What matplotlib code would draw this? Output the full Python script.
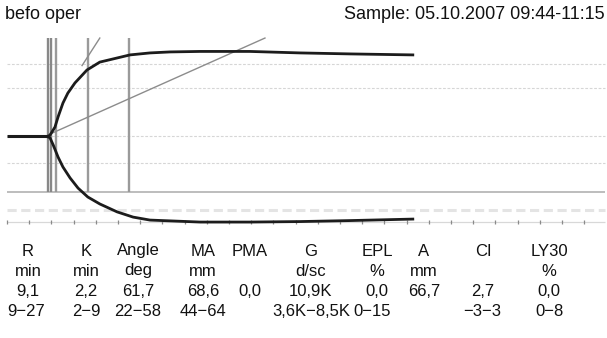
import matplotlib.pyplot as plt

# TEG trace (time in min, amplitude in mm)
base_t = [0.0, 9.2]
base_a = [0.0, 0.0]

upper_t = [9.2, 9.7, 10.8, 11.5, 12.6, 13.7, 15.3, 18.0, 20.9, 27.7,
           32.2, 36.7, 43.5, 54.7, 66.0, 77.3, 91.4]
upper_a = [0.0, 0.6, 3.8, 7.9, 13.5, 17.5, 21.6, 26.8, 30.0, 32.9,
           33.7, 34.1, 34.3, 34.3, 33.7, 33.3, 32.9]

lower_t = [9.2, 9.7, 10.4, 11.5, 12.6, 14.2, 16.0, 18.2, 20.9, 24.8,
           28.4, 32.2, 43.5, 54.7, 66.0, 77.3, 91.4]
lower_a = [0.0, -0.6, -3.4, -8.3, -12.3, -16.7, -20.8, -24.4, -27.2, -30.4,
           -32.5, -33.7, -34.5, -34.5, -34.3, -33.9, -33.3]

# marker lines (min)
marker_t = [9.2, 9.8, 11.1, 18.2, 27.5]
marker_c = ['#888888', '#888888', '#9a9a9a', '#9a9a9a', '#9a9a9a']

# angle lines (start/end points)
angle1_t = [9.7, 58.1]
angle1_a = [1.0, 39.7]
angle2_t = [16.9, 20.9]
angle2_a = [28.6, 39.7]

dashed_levels = [29.2, 19.6, 0.0, -10.7]
solid_level = -22.4
band_level = -29.8
tick_level = -34.5
tick_times = list(range(0, 135, 5))

title_left = 'befo oper'
title_right = 'Sample: 05.10.2007 09:44-11:15'

headers = ['R', 'K', 'Angle', 'MA', 'PMA', 'G', 'EPL', 'A', 'CI', 'LY30']
units = ['min', 'min', 'deg', 'mm', '', 'd/sc', '%', 'mm', '', '%']
values = ['9,1', '2,2', '61,7', '68,6', '0,0', '10,9K', '0,0', '66,7', '2,7', '0,0']
ranges = ['9\u221227', '2\u22129', '22\u221258', '44\u221264', '', '3,6K\u22128,5K',
          '0\u221215', '', '\u22123\u22123', '0\u22128']

col_x = [28, 86, 138, 203, 250, 311, 377, 424, 483, 549]
range_x = [26, 86, 138, 203, 250, 311, 372, 424, 482, 549]
row_y = [251, 271, 292, 312]

fam = ['Liberation Sans', 'DejaVu Sans']

W, H = 607, 338
fig = plt.figure(figsize=(W / 100, H / 100), dpi=100)
ax = fig.add_axes([0, 0, 1, 1])
ax.set_xlim(-1.58, 135.14)
ax.set_ylim(-81.25, 55.04)
ax.axis('off')

x0, x1 = 0.0, 134.7
ax.hlines(dashed_levels, x0, x1, colors='#d6d6d6', linestyles=(0, (2.5, 1.5)), lw=0.8)
ax.hlines(solid_level, x0, x1, colors='#b8b8b8', lw=1.3)
ax.hlines(band_level, x0, x1, colors='#e4e4e4', linestyles=(0, (3, 1.5)), lw=2.2)
ax.hlines(tick_level, x0, x1, colors='#d8d8d8', lw=0.9)
ax.plot(tick_times, [tick_level] * len(tick_times), ls='none', marker='|',
        ms=2.5, mew=0.9, color='#8a8a8a')

ax.vlines(marker_t, solid_level, 39.7, colors=marker_c, lw=1.7)

ax.plot(angle1_t, angle1_a, color='#8c8c8c', lw=1.0)
ax.plot(angle2_t, angle2_a, color='#8c8c8c', lw=1.0)

ax.plot(base_t, base_a, color='#1c1c1c', lw=2.2, solid_capstyle='butt')
ax.plot(upper_t, upper_a, color='#1c1c1c', lw=2.0)
ax.plot(lower_t, lower_a, color='#1c1c1c', lw=2.0)

fig.text(5 / W, 1 - 14.5 / H, title_left, ha='left', va='center',
         fontsize=13, family=fam, color='#111111')
fig.text(605 / W, 1 - 14.5 / H, title_right, ha='right', va='center',
         fontsize=13, family=fam, color='#111111')

for row, y in zip([headers, units, values], row_y[:3]):
    for txt, x in zip(row, col_x):
        fig.text(x / W, 1 - y / H, txt, ha='center', va='center',
                 fontsize=12, family=fam, color='#111111')
for txt, x in zip(ranges, range_x):
    fig.text(x / W, 1 - row_y[3] / H, txt, ha='center', va='center',
             fontsize=12, family=fam, color='#111111')

fig.savefig('out.png', dpi=100, facecolor='white')
